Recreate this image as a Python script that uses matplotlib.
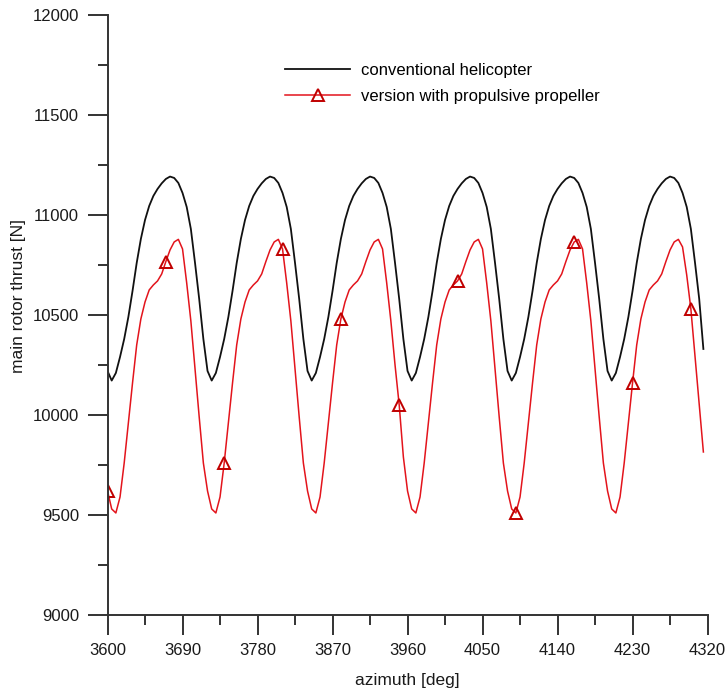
import numpy as np
import matplotlib
matplotlib.use("Agg")
import matplotlib.pyplot as plt
from matplotlib.ticker import MultipleLocator

# -----------------------------
# Dados (passo de 5 deg)
# -----------------------------
azimuth = np.arange(3600, 4320, 5)  # deg

thrust_conventional = [
    10220,
    10172, 10210, 10290, 10380, 10490, 10620, 10760, 10880, 10975, 11045, 11095, 11130,
    11158, 11180, 11192, 11185, 11160, 11110, 11040, 10930, 10760, 10580, 10380, 10220,
    10172, 10210, 10290, 10380, 10490, 10620, 10760, 10880, 10975, 11045, 11095, 11130,
    11158, 11180, 11192, 11185, 11160, 11110, 11040, 10930, 10760, 10580, 10380, 10220,
    10172, 10210, 10290, 10380, 10490, 10620, 10760, 10880, 10975, 11045, 11095, 11130,
    11158, 11180, 11192, 11185, 11160, 11110, 11040, 10930, 10760, 10580, 10380, 10220,
    10172, 10210, 10290, 10380, 10490, 10620, 10760, 10880, 10975, 11045, 11095, 11130,
    11158, 11180, 11192, 11185, 11160, 11110, 11040, 10930, 10760, 10580, 10380, 10220,
    10172, 10210, 10290, 10380, 10490, 10620, 10760, 10880, 10975, 11045, 11095, 11130,
    11158, 11180, 11192, 11185, 11160, 11110, 11040, 10930, 10760, 10580, 10380, 10220,
    10172, 10210, 10290, 10380, 10490, 10620, 10760, 10880, 10975, 11045, 11095, 11130,
    11158, 11180, 11192, 11185, 11160, 11110, 11040, 10930, 10760, 10580, 10330,
]

thrust_propeller = [
    9620, 9530,
    9510, 9590, 9760, 9960, 10160, 10350, 10480, 10565, 10625, 10650, 10670, 10705,
    10767, 10825, 10865, 10878, 10830, 10660, 10470, 10230, 9990, 9760, 9620, 9530,
    9510, 9590, 9760, 9960, 10160, 10350, 10480, 10565, 10625, 10650, 10670, 10705,
    10767, 10825, 10865, 10878, 10830, 10660, 10470, 10230, 9990, 9760, 9620, 9530,
    9510, 9590, 9760, 9960, 10160, 10350, 10480, 10565, 10625, 10650, 10670, 10705,
    10767, 10825, 10865, 10878, 10830, 10660, 10470, 10250, 10050, 9790, 9620, 9530,
    9510, 9590, 9760, 9960, 10160, 10350, 10480, 10565, 10625, 10650, 10670, 10705,
    10767, 10825, 10865, 10878, 10830, 10660, 10470, 10230, 9990, 9760, 9620, 9530,
    9510, 9590, 9760, 9960, 10160, 10350, 10480, 10565, 10625, 10650, 10670, 10705,
    10767, 10825, 10865, 10878, 10830, 10660, 10470, 10230, 9990, 9760, 9620, 9530,
    9510, 9590, 9760, 9960, 10160, 10350, 10480, 10565, 10625, 10650, 10670, 10705,
    10767, 10825, 10865, 10878, 10840, 10700, 10530, 10290, 10050, 9815,
]

labels = ["conventional helicopter", "version with propulsive propeller"]

# -----------------------------
# Figura
# -----------------------------
plt.rcParams["font.family"] = ["Liberation Sans", "DejaVu Sans"]

fig = plt.figure(figsize=(7.28, 6.92), dpi=100)
ax = fig.add_axes([0.1477, 0.1113, 0.8242, 0.8671])

ax.plot(azimuth, thrust_conventional, color="#111111", lw=1.3, label=labels[0])
ax.plot(azimuth, thrust_propeller, color="#e3141c", lw=1.1,
        marker="^", ms=8.5, mfc="none", mec="#c00000", mew=1.4,
        markevery=14, label=labels[1])

ax.set_xlim(3600, 4320)
ax.set_ylim(9000, 12000)
ax.xaxis.set_major_locator(MultipleLocator(90))
ax.xaxis.set_minor_locator(MultipleLocator(45))
ax.yaxis.set_major_locator(MultipleLocator(500))
ax.yaxis.set_minor_locator(MultipleLocator(250))

for s in ["top", "right"]:
    ax.spines[s].set_visible(False)
for s in ["left", "bottom"]:
    ax.spines[s].set_color("#333333")
    ax.spines[s].set_linewidth(1.4)

ax.tick_params(which="major", direction="out", length=14.4, width=1.4,
               color="#333333", labelsize=12, labelcolor="#1a1a1a", pad=6)
ax.tick_params(which="minor", direction="out", length=7.2, width=1.4, color="#333333")

ax.set_xlabel("azimuth [deg]", fontsize=12.5, color="#1a1a1a")
ax.set_ylabel("main rotor thrust [N]", fontsize=12.5, color="#1a1a1a")
ax.xaxis.set_label_coords(0.5, -0.097)
ax.yaxis.set_label_coords(-0.136, 0.532)

ax.legend(loc="upper left", bbox_to_anchor=(0.296, 0.92), frameon=False,
          fontsize=12, handlelength=3.9, handletextpad=0.64, labelspacing=0.68,
          borderpad=0, borderaxespad=0)

fig.savefig("out.png", dpi=100)
